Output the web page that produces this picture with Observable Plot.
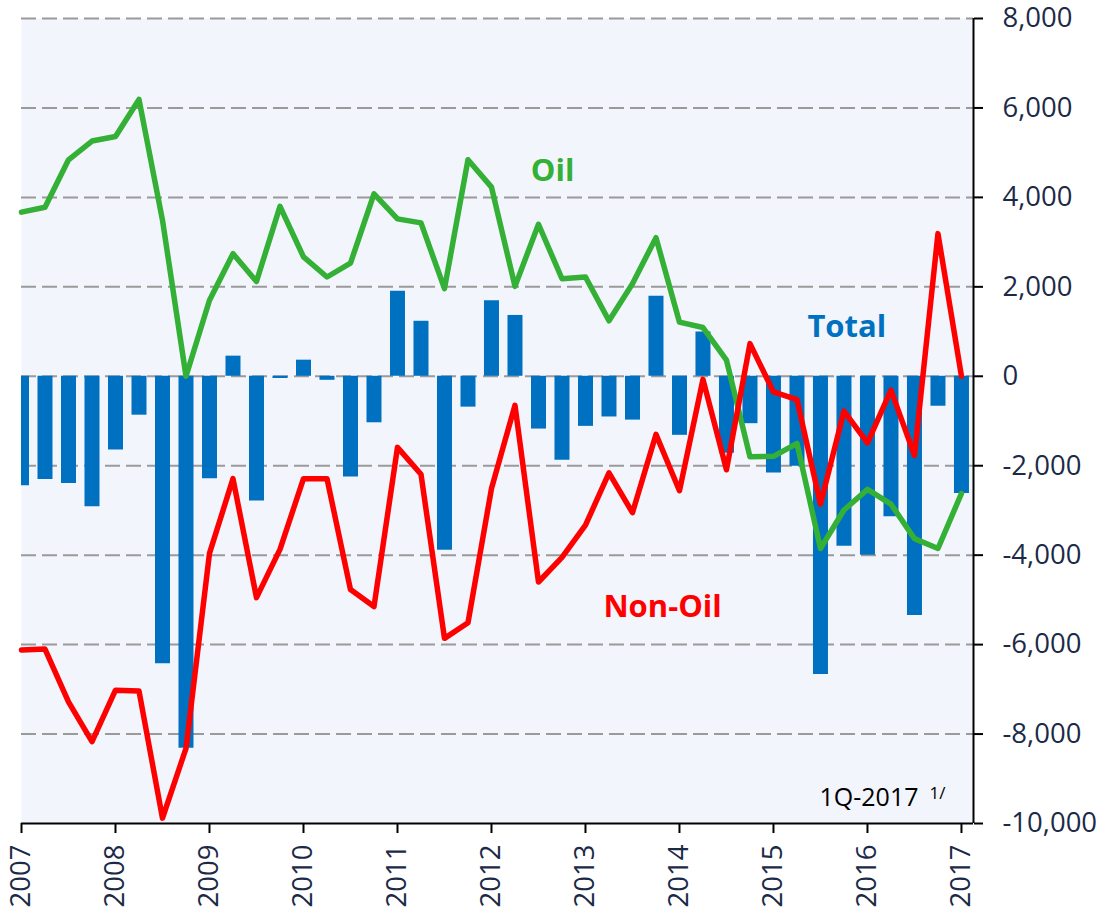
<!DOCTYPE html>
<html>
<head>
<meta charset="utf-8">
<script src="https://cdn.jsdelivr.net/npm/d3@7"></script>
<script src="https://cdn.jsdelivr.net/npm/@observablehq/plot@0.6"></script>
<style>
  html, body { margin: 0; padding: 0; background: #ffffff; }
  #chart svg { display: block; }
</style>
</head>
<body>
<div id="chart"></div>
<script>
// Quarterly observations, 2007Q1 .. 2017Q1 (position in decimal years)
const quarters = d3.range(41).map(i => 2007 + i * 0.25);

const totalValues = [
  -2450, -2310, -2400, -2920, -1650, -870, -6430, -8320, -2290, 450,
  -2790, -50, 360, -90, -2250, -1040, 1900, 1230, -3890, -690,
  1690, 1360, -1180, -1880, -1120, -910, -980, 1790, -1320, 990,
  -1720, -1060, -2160, -2010, -6670, -3800, -4000, -3140, -5350, -670,
  -2620
];

const oilValues = [
  3670, 3780, 4840, 5260, 5360, 6190, 3490, 0, 1700, 2740,
  2120, 3800, 2670, 2220, 2530, 4080, 3520, 3430, 1960, 4840,
  4230, 2010, 3400, 2180, 2220, 1240, 2070, 3100, 1210, 1090,
  360, -1800, -1790, -1500, -3850, -2990, -2530, -2860, -3630, -3850,
  -2620
];

const nonOilValues = [
  -6120, -6100, -7280, -8170, -7020, -7040, -9880, -8320, -3960, -2290,
  -4950, -3870, -2290, -2290, -4770, -5150, -1590, -2190, -5860, -5510,
  -2510, -650, -4600, -4050, -3330, -2160, -3050, -1300, -2560, -70,
  -2090, 730, -350, -520, -2860, -780, -1490, -310, -1770, 3190,
  0
];

const yearTicks = d3.range(2007, 2018);
const valueTicks = d3.range(-10000, 8001, 2000);
const gridTicks = d3.range(-8000, 8001, 2000);

const seriesLabels = [
  {text: "Oil", x: 2012.65, y: 4580, color: "#33b035"},
  {text: "Total", x: 2015.78, y: 1095, color: "#0070c0"},
  {text: "Non-Oil", x: 2013.82, y: -5160, color: "#ff0000"}
];
const noteLabel = [{text: "1Q-2017", x: 2015.49, y: -9420}];
const noteSup = [{text: "1/", x: 2016.66, y: -9330}];

const xDomain = [2007, 2017.128];
const yDomain = [-10000, 8000];

const rows = quarters.map((t, i) => ({t, total: totalValues[i], oil: oilValues[i], nonOil: nonOilValues[i]}));

const navy = "#1b2a47";
const fmtValue = d => d.toLocaleString("en-US");

const chart = Plot.plot({
  width: 1107,
  height: 914,
  marginLeft: 21,
  marginRight: 134,
  marginTop: 18,
  marginBottom: 91,
  style: {fontFamily: "'Open Sans', sans-serif", background: "#ffffff", overflow: "visible"},
  x: {domain: xDomain},
  y: {domain: yDomain},
  marks: [
    Plot.frame({fill: "#f2f5fb", stroke: "none"}),
    Plot.ruleY(gridTicks, {stroke: "#9a9a9a", strokeWidth: 2, strokeDasharray: "15,6"}),
    Plot.ruleX(rows, {x: "t", y1: 0, y2: "total", stroke: "#0070c0", strokeWidth: 15, clip: true}),
    Plot.line(rows, {x: "t", y: "oil", stroke: "#33b035", strokeWidth: 5.5, strokeLinejoin: "round"}),
    Plot.line(rows, {x: "t", y: "nonOil", stroke: "#ff0000", strokeWidth: 5.5, strokeLinejoin: "round"}),
    Plot.ruleY([yDomain[0]], {stroke: "#000000", strokeWidth: 2}),
    Plot.ruleX([xDomain[1]], {stroke: "#000000", strokeWidth: 2}),
    Plot.axisY({
      anchor: "right", ticks: valueTicks, tickSize: 9, tickPadding: 20,
      tickFormat: fmtValue, fontSize: 27.5, stroke: "#000000", strokeWidth: 2, fill: navy,
      label: null
    }),
    Plot.axisX({
      anchor: "bottom", ticks: yearTicks, tickSize: 10, tickPadding: 11, tickRotate: -90,
      tickFormat: d => String(d), fontSize: 27.5, stroke: "#000000", strokeWidth: 2, fill: navy,
      label: null
    }),
    Plot.text(seriesLabels, {x: "x", y: "y", text: "text", fill: d => d.color, fontSize: 31, fontWeight: "bold"}),
    Plot.text(noteLabel, {x: "x", y: "y", text: "text", fill: "#000000", fontSize: 25, textAnchor: "start"}),
    Plot.text(noteSup, {x: "x", y: "y", text: "text", fill: "#000000", fontSize: 17, textAnchor: "start"})
  ]
});

document.getElementById("chart").append(chart);
</script>
</body>
</html>
